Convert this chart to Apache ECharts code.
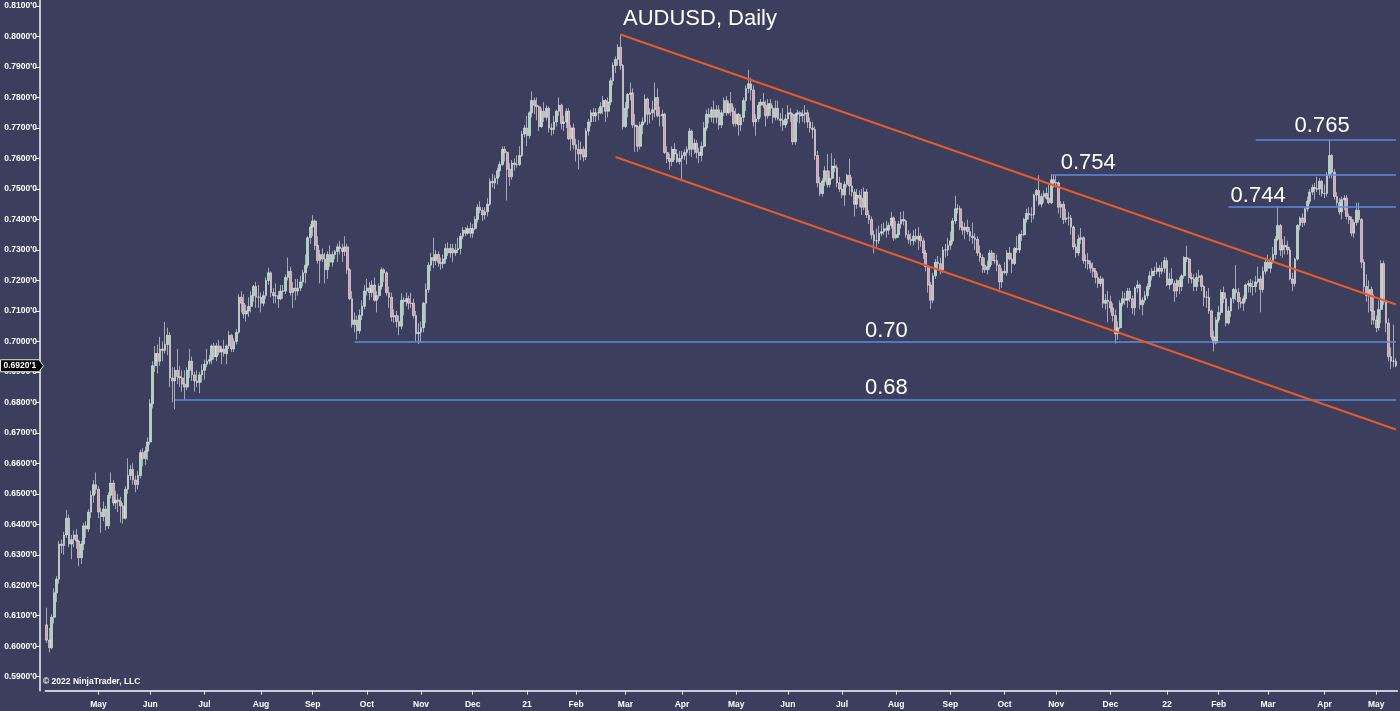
<!DOCTYPE html>
<html>
<head>
<meta charset="utf-8">
<title>AUDUSD, Daily</title>
<script src="https://cdn.jsdelivr.net/npm/echarts@6/dist/echarts.min.js"></script>
<style>
  html, body { margin: 0; padding: 0; background: #3b3e5c; }
  #chart { width: 1400px; height: 711px; }
</style>
</head>
<body>
<div id="chart"></div>
<script>
// ---- Session calendar (weekday sessions, market holidays skipped) ----
const firstSession = '2020-04-02';
const lastSession = '2022-05-12';
const closedSessions = ['2020-12-25', '2021-01-01'];

// ---- Daily candles, prices in pips (x 0.0001): [open, high, low, close] ----
const candles = [
  // 2020-04
  [6070,6126,6010,6020],[6020,6060,5980,5995],[5995,6105,5990,6095],[6095,6190,6075,6175],[6175,6230,6145,6220],
  [6220,6345,6205,6335],[6335,6350,6305,6330],[6330,6375,6300,6365],[6365,6447,6355,6420],[6420,6432,6325,6335],
  [6335,6365,6285,6350],[6350,6380,6325,6365],[6365,6385,6320,6345],[6345,6350,6262,6290],[6290,6345,6270,6335],
  [6335,6405,6315,6395],[6395,6410,6355,6385],[6385,6450,6375,6440],[6440,6510,6420,6495],[6495,6545,6470,6530],
  [6530,6570,6500,6515],
  // 2020-05
  [6515,6525,6420,6440],[6440,6455,6372,6425],[6425,6475,6410,6450],[6450,6460,6380,6395],[6395,6505,6385,6495],
  [6495,6570,6485,6535],[6535,6545,6460,6470],[6470,6510,6450,6480],[6480,6500,6440,6475],[6475,6490,6405,6460],
  [6460,6470,6402,6420],[6420,6525,6415,6515],[6515,6616,6500,6560],[6560,6595,6545,6580],[6580,6600,6530,6545],
  [6545,6560,6505,6530],[6530,6575,6515,6560],[6560,6645,6550,6635],[6635,6650,6590,6615],[6615,6655,6595,6640],
  [6640,6685,6610,6670],
  // 2020-06
  [6670,6810,6660,6795],[6795,6935,6780,6920],[6920,6985,6900,6960],[6960,6990,6895,6935],[6935,7015,6920,6975],
  [6975,7000,6935,6970],[6970,7064,6960,6990],[6990,7045,6955,7020],[7020,7030,6850,6880],[6880,6915,6800,6870],
  [6870,6915,6777,6905],[6905,6975,6860,6885],[6885,6920,6850,6880],[6880,6905,6835,6860],[6860,6905,6808,6850],
  [6850,6915,6840,6905],[6905,6975,6880,6935],[6935,6950,6870,6890],[6890,6900,6835,6870],[6870,6905,6850,6865],
  [6865,6900,6830,6890],[6890,6925,6865,6905],
  // 2020-07
  [6905,6940,6875,6925],[6925,6975,6915,6935],[6935,6955,6925,6940],[6940,6990,6925,6985],[6985,6995,6940,6950],
  [6950,6995,6935,6985],[6985,7005,6955,6965],[6965,6985,6925,6975],[6975,7005,6950,6960],[6960,6990,6925,6985],
  [6985,7035,6975,7020],[7020,7025,6965,6975],[6975,7010,6965,7000],[7000,7040,6990,7030],[7030,7155,7025,7145],
  [7145,7165,7095,7125],[7125,7155,7075,7090],[7090,7120,7065,7100],[7100,7145,7080,7115],[7115,7165,7095,7150],
  [7150,7185,7130,7180],[7180,7195,7110,7145],[7145,7185,7110,7145],
  // 2020-08
  [7145,7160,7095,7125],[7125,7165,7115,7150],[7150,7210,7140,7200],[7200,7242,7185,7225],[7225,7230,7145,7160],
  [7160,7175,7125,7150],[7150,7190,7125,7150],[7150,7165,7110,7140],[7140,7185,7135,7165],[7165,7185,7140,7165],
  [7165,7220,7155,7210],[7210,7275,7200,7230],[7230,7245,7150,7160],[7160,7195,7110,7175],[7175,7205,7135,7165],
  [7165,7205,7150,7175],[7175,7215,7165,7195],[7195,7235,7180,7225],[7225,7285,7190,7250],[7250,7345,7240,7340],
  [7340,7385,7320,7375],
  // 2020-09
  [7375,7414,7345,7395],[7395,7400,7300,7315],[7315,7345,7255,7265],[7265,7300,7190,7285],[7285,7305,7260,7270],
  [7270,7290,7190,7235],[7235,7295,7205,7285],[7285,7315,7245,7260],[7260,7295,7245,7285],[7285,7300,7270,7295],
  [7295,7320,7260,7310],[7310,7330,7285,7305],[7305,7320,7260,7295],[7295,7345,7280,7310],[7310,7320,7220,7235],
  [7235,7240,7135,7140],[7140,7165,7045,7055],[7055,7095,7030,7070],[7070,7085,7006,7035],[7035,7105,7025,7085],
  [7085,7135,7070,7115],[7115,7185,7105,7165],
  // 2020-10
  [7165,7205,7150,7175],[7175,7195,7135,7160],[7160,7200,7145,7185],[7185,7210,7130,7135],[7135,7165,7095,7150],
  [7150,7190,7140,7180],[7180,7243,7170,7235],[7235,7240,7195,7225],[7225,7230,7150,7160],[7160,7180,7110,7145],
  [7145,7160,7065,7080],[7080,7105,7060,7085],[7085,7100,7045,7065],[7065,7085,7020,7050],[7050,7158,7040,7135],
  [7135,7145,7085,7130],[7130,7160,7115,7140],[7140,7150,7105,7125],[7125,7160,7110,7125],[7125,7140,7075,7085],
  [7085,7100,7000,7025],[7025,7060,6991,7030],
  // 2020-11
  [7030,7065,6995,7045],[7045,7130,7030,7125],[7125,7190,7060,7170],[7170,7260,7160,7250],[7250,7290,7230,7275],
  [7275,7340,7240,7265],[7265,7300,7250,7285],[7285,7295,7245,7260],[7260,7275,7235,7255],[7255,7285,7240,7270],
  [7270,7320,7255,7305],[7305,7325,7280,7290],[7290,7320,7275,7305],[7305,7320,7260,7290],[7290,7320,7280,7300],
  [7300,7340,7290,7305],[7305,7355,7285,7345],[7345,7375,7335,7365],[7365,7375,7345,7355],[7355,7380,7350,7370],
  [7370,7390,7340,7355],
  // 2020-12
  [7355,7385,7340,7370],[7370,7410,7365,7400],[7400,7450,7390,7440],[7440,7460,7420,7430],[7430,7440,7395,7415],
  [7415,7440,7400,7425],[7425,7470,7410,7450],[7450,7535,7445,7525],[7525,7550,7505,7520],[7520,7545,7500,7535],
  [7535,7570,7515,7560],[7560,7590,7540,7580],[7580,7640,7575,7630],[7630,7640,7590,7620],[7620,7625,7462,7565],
  [7565,7585,7510,7540],[7540,7595,7530,7585],[7585,7600,7560,7580],[7580,7610,7570,7580],[7580,7640,7575,7610],
  [7610,7690,7605,7680],[7680,7710,7670,7700],
  // 2021-01
  [7700,7740,7640,7675],[7675,7755,7665,7750],[7750,7820,7735,7790],[7790,7800,7745,7775],[7775,7800,7725,7770],
  [7770,7775,7690,7705],[7705,7765,7700,7755],[7755,7785,7720,7735],[7735,7775,7725,7765],[7765,7770,7685,7700],
  [7700,7715,7675,7695],[7695,7740,7680,7720],[7720,7760,7705,7755],[7755,7800,7740,7775],[7775,7780,7695,7715],
  [7715,7740,7690,7720],[7720,7765,7700,7755],[7755,7765,7660,7665],[7665,7710,7625,7700],[7700,7715,7630,7645],
  // 2021-02
  [7645,7665,7590,7630],[7630,7660,7564,7615],[7615,7655,7595,7630],[7630,7640,7590,7605],[7605,7700,7595,7690],
  [7690,7730,7675,7720],[7720,7760,7705,7750],[7750,7765,7720,7740],[7740,7765,7720,7750],[7750,7765,7725,7750],
  [7750,7785,7745,7770],[7770,7805,7745,7790],[7790,7795,7720,7755],[7755,7800,7735,7785],[7785,7865,7775,7855],
  [7855,7915,7840,7905],[7905,7935,7880,7925],[7925,7975,7905,7965],[7965,8007,7890,7905],[7905,7910,7695,7705],
  // 2021-03
  [7705,7785,7700,7765],[7765,7815,7735,7810],[7810,7849,7790,7815],[7815,7830,7700,7710],[7710,7745,7622,7705],
  [7705,7710,7622,7640],[7640,7720,7630,7710],[7710,7735,7680,7720],[7720,7810,7715,7795],[7795,7800,7710,7745],
  [7745,7765,7715,7750],[7750,7790,7725,7760],[7760,7849,7735,7800],[7800,7830,7735,7740],[7740,7770,7705,7740],
  [7740,7760,7705,7745],[7745,7750,7615,7620],[7620,7640,7585,7600],[7600,7615,7563,7590],[7590,7640,7575,7630],
  [7630,7650,7595,7615],[7615,7630,7585,7590],[7590,7625,7580,7600],
  // 2021-04
  [7600,7625,7531,7610],[7610,7630,7595,7620],[7620,7640,7580,7630],[7630,7700,7610,7690],[7690,7695,7605,7630],
  [7630,7665,7615,7650],[7650,7660,7600,7620],[7620,7635,7585,7610],[7610,7655,7590,7640],[7640,7720,7635,7700],
  [7700,7760,7690,7745],[7745,7765,7715,7735],[7735,7770,7720,7760],[7760,7790,7715,7735],[7735,7775,7715,7760],
  [7760,7775,7695,7710],[7710,7760,7700,7750],[7750,7800,7740,7790],[7790,7805,7740,7750],[7750,7790,7745,7780],
  [7780,7818,7740,7755],[7755,7770,7705,7715],
  // 2021-05
  [7715,7765,7705,7745],[7745,7750,7675,7710],[7710,7745,7690,7735],[7735,7800,7720,7790],[7790,7840,7755,7830],
  [7830,7891,7815,7845],[7845,7865,7790,7825],[7825,7840,7705,7720],[7720,7745,7675,7730],[7730,7785,7720,7775],
  [7775,7795,7735,7785],[7785,7815,7765,7775],[7775,7790,7705,7740],[7740,7795,7730,7780],[7780,7795,7740,7765],
  [7765,7775,7715,7735],[7735,7790,7725,7765],[7765,7790,7725,7730],[7730,7750,7705,7725],[7725,7765,7690,7710],
  [7710,7745,7700,7730],
  // 2021-06
  [7730,7775,7715,7750],[7750,7765,7720,7745],[7745,7750,7645,7655],[7655,7750,7645,7745],[7745,7760,7720,7750],
  [7750,7755,7715,7740],[7740,7760,7720,7745],[7745,7775,7715,7750],[7750,7760,7700,7720],[7720,7735,7685,7700],
  [7700,7720,7665,7695],[7695,7705,7595,7610],[7610,7625,7505,7520],[7520,7540,7477,7485],[7485,7535,7475,7525],
  [7525,7575,7510,7560],[7560,7615,7505,7515],[7515,7560,7505,7535],[7535,7617,7530,7575],[7575,7600,7555,7570],
  [7570,7580,7505,7520],[7520,7540,7490,7500],
  // 2021-07
  [7500,7520,7470,7480],[7480,7525,7445,7515],[7515,7550,7505,7545],[7545,7599,7480,7510],[7510,7540,7475,7490],
  [7490,7500,7410,7450],[7450,7500,7435,7480],[7480,7495,7440,7470],[7470,7500,7415,7440],[7440,7505,7430,7490],
  [7490,7500,7405,7415],[7415,7430,7385,7400],[7400,7410,7335,7350],[7350,7365,7289,7330],[7330,7370,7310,7330],
  [7330,7380,7320,7355],[7355,7385,7345,7360],[7360,7390,7350,7370],[7370,7395,7340,7365],[7365,7390,7350,7380],
  [7380,7425,7370,7405],[7405,7410,7330,7340],
  // 2021-08
  [7340,7395,7335,7350],[7350,7395,7340,7385],[7385,7425,7370,7400],[7400,7427,7380,7395],[7395,7400,7340,7350],
  [7350,7365,7320,7335],[7335,7355,7315,7330],[7330,7365,7315,7345],[7345,7370,7325,7335],[7335,7375,7300,7345],
  [7345,7355,7310,7330],[7330,7340,7270,7290],[7290,7300,7230,7245],[7245,7250,7160,7185],[7185,7195,7106,7135],
  [7135,7225,7125,7215],[7215,7270,7205,7260],[7260,7280,7235,7255],[7255,7275,7220,7235],[7235,7310,7225,7300],
  [7300,7320,7275,7300],[7300,7340,7280,7315],
  // 2021-09
  [7315,7360,7300,7330],[7330,7405,7320,7395],[7395,7478,7385,7435],[7435,7450,7420,7435],[7435,7445,7365,7375],
  [7375,7395,7350,7365],[7365,7390,7335,7375],[7375,7400,7350,7360],[7360,7375,7330,7345],[7345,7390,7320,7340],
  [7340,7355,7300,7335],[7335,7345,7280,7290],[7290,7315,7260,7275],[7275,7285,7225,7250],[7250,7275,7225,7235],
  [7235,7265,7220,7245],[7245,7300,7235,7290],[7290,7300,7250,7265],[7265,7290,7255,7265],[7265,7285,7230,7250],
  [7250,7255,7170,7195],[7195,7240,7175,7230],
  // 2021-10
  [7230,7260,7220,7225],[7225,7300,7215,7290],[7290,7310,7265,7270],[7270,7290,7225,7255],[7255,7310,7250,7305],
  [7305,7345,7290,7300],[7300,7355,7290,7350],[7350,7365,7330,7350],[7350,7405,7345,7400],[7400,7435,7390,7420],
  [7420,7440,7400,7415],[7415,7440,7390,7415],[7415,7485,7400,7480],[7480,7500,7460,7495],[7495,7545,7445,7450],
  [7450,7485,7440,7475],[7475,7495,7455,7485],[7485,7505,7465,7470],[7470,7515,7450,7455],[7455,7549,7450,7530],
  [7530,7545,7505,7520],
  // 2021-11
  [7520,7545,7505,7520],[7520,7525,7420,7440],[7440,7460,7405,7450],[7450,7460,7385,7400],[7400,7435,7390,7405],
  [7405,7425,7380,7405],[7405,7415,7350,7375],[7375,7380,7300,7310],[7310,7320,7275,7290],[7290,7350,7280,7335],
  [7335,7372,7320,7340],[7340,7345,7255,7265],[7265,7285,7240,7265],[7265,7290,7235,7255],[7255,7265,7225,7240],
  [7240,7260,7210,7230],[7230,7240,7190,7210],[7210,7225,7175,7190],[7190,7215,7180,7205],[7205,7210,7110,7125],
  [7125,7155,7105,7135],[7135,7165,7063,7130],
  // 2021-12
  [7130,7150,7095,7110],[7110,7125,7065,7085],[7085,7105,6993,7025],[7025,7065,7005,7045],[7045,7135,7040,7125],
  [7125,7165,7115,7140],[7140,7160,7120,7135],[7135,7175,7110,7165],[7165,7175,7130,7140],[7140,7150,7090,7110],
  [7110,7180,7085,7175],[7175,7200,7160,7185],[7185,7190,7105,7120],[7120,7145,7085,7135],[7135,7165,7125,7150],
  [7150,7190,7140,7180],[7180,7230,7170,7215],[7215,7240,7200,7230],[7230,7245,7215,7230],[7230,7260,7220,7240],
  [7240,7250,7210,7230],[7230,7260,7220,7240],[7240,7277,7225,7265],
  // 2022-01
  [7265,7275,7180,7185],[7185,7225,7170,7205],[7205,7240,7185,7190],[7190,7200,7130,7165],[7165,7205,7145,7200],
  [7200,7210,7155,7180],[7180,7220,7165,7215],[7215,7280,7205,7275],[7275,7314,7260,7270],[7270,7275,7190,7210],
  [7210,7225,7190,7205],[7205,7220,7165,7180],[7180,7225,7165,7210],[7210,7235,7195,7215],[7215,7220,7165,7180],
  [7180,7185,7115,7145],[7145,7165,7110,7145],[7145,7175,7090,7100],[7100,7105,7005,7015],[7015,7035,6967,6995],
  [6995,7080,6990,7070],
  // 2022-02
  [7070,7115,7060,7095],[7095,7170,7085,7160],[7160,7180,7125,7140],[7140,7160,7050,7060],[7060,7115,7055,7100],
  [7100,7145,7080,7140],[7140,7175,7125,7170],[7170,7250,7135,7160],[7160,7175,7105,7130],[7130,7145,7110,7125],
  [7125,7150,7100,7140],[7140,7190,7130,7185],[7185,7200,7160,7190],[7190,7205,7160,7180],[7180,7200,7150,7180],
  [7180,7215,7160,7195],[7195,7245,7190,7205],[7205,7215,7095,7170],[7170,7245,7160,7230],[7230,7275,7220,7260],
  // 2022-03
  [7260,7285,7230,7240],[7240,7275,7225,7265],[7265,7310,7255,7285],[7285,7345,7270,7335],[7335,7441,7330,7380],
  [7380,7385,7280,7300],[7300,7335,7275,7315],[7315,7345,7285,7310],[7310,7330,7285,7300],[7300,7310,7200,7205],
  [7205,7225,7165,7190],[7190,7275,7180,7270],[7270,7385,7265,7380],[7380,7410,7365,7405],[7405,7420,7375,7390],
  [7390,7440,7380,7435],[7435,7475,7425,7460],[7460,7500,7450,7490],[7490,7515,7480,7505],[7505,7520,7465,7500],
  [7500,7540,7490,7500],[7500,7535,7480,7525],[7525,7530,7475,7485],
  // 2022-04
  [7485,7515,7470,7485],[7485,7555,7475,7545],[7545,7663,7535,7610],[7610,7615,7535,7555],[7555,7565,7465,7475],
  [7475,7490,7445,7455],[7455,7470,7415,7425],[7425,7475,7400,7465],[7465,7480,7430,7470],[7470,7480,7400,7410],
  [7410,7420,7385,7400],[7400,7410,7345,7355],[7355,7400,7340,7390],[7390,7455,7380,7430],[7430,7455,7390,7400],
  [7400,7405,7240,7260],[7260,7270,7160,7180],[7180,7220,7130,7150],[7150,7200,7095,7170],[7170,7180,7054,7100],
  [7100,7155,7055,7070],
  // 2022-05
  [7070,7085,7030,7045],[7045,7135,7035,7105],[7105,7266,7060,7255],[7255,7265,7120,7130],[7130,7135,7030,7060],
  [7060,7076,6935,6950],[6950,6980,6910,6935],[6935,7055,6915,6935],[6935,6945,6915,6920.1]
];

// ---- Price axis labels ----
const priceTicks = [0.59, 0.60, 0.61, 0.62, 0.63, 0.64, 0.65, 0.66, 0.67, 0.68, 0.69, 0.70,
                    0.71, 0.72, 0.73, 0.74, 0.75, 0.76, 0.77, 0.78, 0.79, 0.80, 0.81];
const monthNames = ['Jan','Feb','Mar','Apr','May','Jun','Jul','Aug','Sep','Oct','Nov','Dec'];

// ---- Drawn horizontal levels ----
const levelStart = ['2020-06-15', '2020-09-24', '2021-10-28', '2022-02-07', '2022-02-22'];
const levelPrice = [0.6807, 0.7000, 0.7548, 0.7443, 0.7663];
const levelText  = ['0.68', '0.70', '0.754', '0.744', '0.765'];
const levelTextAt = [['2021-07-27', 0.6847], ['2021-07-27', 0.7034], ['2021-11-18', 0.7585],
                     ['2022-02-23', 0.7477], ['2022-03-31', 0.7706]];

// ---- Descending channel ----
const channelUpper = [['2021-02-25', 0.8007], ['2022-05-12', 0.7121]];
const channelLower = [['2021-02-23', 0.7605], ['2022-05-12', 0.6711]];

const lastPrice = 0.69201;

// ---------------------------------------------------------------
function tradingDays(from, to, skip) {
  const out = [];
  const d = new Date(from + 'T00:00:00Z');
  const end = new Date(to + 'T00:00:00Z');
  while (d <= end) {
    const wd = d.getUTCDay();
    const s = d.toISOString().slice(0, 10);
    if (wd !== 0 && wd !== 6 && skip.indexOf(s) < 0) out.push(s);
    d.setUTCDate(d.getUTCDate() + 1);
  }
  return out;
}
const dates = tradingDays(firstSession, lastSession, closedSessions);
if (dates.length !== candles.length) console.warn('sessions', dates.length, 'candles', candles.length);

// first session of each month carries the axis label
const monthStart = dates.map((d, i) => i === 0 ? d.slice(8) === '01' : d.slice(5, 7) !== dates[i - 1].slice(5, 7));
const isMonthStart = (i) => monthStart[i];
function monthLabel(d) {
  const m = +d.slice(5, 7);
  return m === 1 ? d.slice(2, 4) : monthNames[m - 1];
}

const ohlcData = candles.map(c => [c[0] / 1e4, c[3] / 1e4, c[2] / 1e4, c[1] / 1e4]);

const BG = '#3b3e5c';
const TXT = '#ffffff';
const SANS = "'Liberation Sans', Arial, sans-serif";
const BLUE = '#5b8de4';
const ORANGE = '#e65a2c';

const levelLines = levelPrice.map((p, i) => [
  { coord: [levelStart[i], p], lineStyle: { color: BLUE, width: 1.6, type: 'solid' } },
  { coord: [dates[dates.length - 1], p] }
]);
const channelLines = [channelUpper, channelLower].map(seg => [
  { coord: seg[0], lineStyle: { color: ORANGE, width: 2, type: 'solid' } },
  { coord: seg[1] }
]);

const chart = echarts.init(document.getElementById('chart'), null, { renderer: 'canvas' });

chart.setOption({
  animation: false,
  backgroundColor: BG,
  title: {
    text: 'AUDUSD, Daily',
    left: 'center',
    top: 3,
    textStyle: { color: TXT, fontSize: 22, fontWeight: 'normal', fontFamily: SANS }
  },
  grid: { left: 45.6, right: 2.8, top: 0, bottom: 20.3, containLabel: false, outerBoundsMode: 'none' },
  xAxis: {
    type: 'category',
    data: dates,
    boundaryGap: true,
    axisLine: { show: true, lineStyle: { color: '#c9cbd6', width: 2 } },
    axisTick: { show: true, interval: isMonthStart, alignWithLabel: true, length: 4, lineStyle: { color: '#e8e8ee', width: 1 } },
    axisLabel: {
      interval: isMonthStart,
      formatter: monthLabel,
      color: TXT, fontSize: 8.5, fontWeight: 'bold', fontFamily: SANS, margin: 9
    },
    splitLine: { show: false }
  },
  yAxis: {
    type: 'value',
    min: 0.5854,
    max: 0.8120,
    offset: 5.6,
    axisLine: { show: true, lineStyle: { color: '#f2f2f6', width: 1.5 } },
    axisTick: { show: true, customValues: priceTicks, length: 4, lineStyle: { color: '#f2f2f6' } },
    axisLabel: {
      customValues: priceTicks,
      formatter: v => v.toFixed(4) + "'0",
      color: TXT, fontSize: 8.5, fontWeight: 'bold', fontFamily: SANS, margin: 3
    },
    splitLine: { show: false }
  },
  series: [{
    type: 'candlestick',
    data: ohlcData,
    barWidth: 2.2,
    itemStyle: {
      color: '#a3dab5',
      color0: '#dc9eab',
      borderColor: '#eceef3',
      borderColor0: '#eceef3',
      borderWidth: 0.6
    },
    markLine: {
      silent: true,
      symbol: ['none', 'none'],
      label: { show: false },
      data: levelLines.concat(channelLines)
    },
    markPoint: {
      silent: true,
      symbol: 'rect',
      symbolSize: 1,
      itemStyle: { color: 'rgba(0,0,0,0)' },
      label: { show: true, position: 'inside', color: TXT, fontSize: 22, fontFamily: SANS, formatter: p => p.name },
      data: levelText.map((t, i) => ({ name: t, coord: levelTextAt[i] }))
    }
  }]
});

// last-price tag on the price axis and the vendor notice
const yTag = chart.convertToPixel({ yAxisIndex: 0 }, lastPrice);
chart.setOption({
  graphic: [
    {
      type: 'polygon',
      shape: { points: [[0.5, yTag - 6], [39, yTag - 6], [43.5, yTag], [39, yTag + 6], [0.5, yTag + 6]] },
      style: { fill: '#050505', stroke: '#e6e6ea', lineWidth: 1 },
      z: 100
    },
    {
      type: 'text',
      x: 3.5, y: yTag,
      style: { text: lastPrice.toFixed(4) + "'" + '1', fill: TXT, fontSize: 8.5, fontWeight: 'bold', fontFamily: SANS, verticalAlign: 'middle' },
      z: 101
    },
    {
      type: 'text',
      left: 43, bottom: 25,
      style: { text: '\u00a9 2022 NinjaTrader, LLC', fill: TXT, fontSize: 8.5, fontWeight: 'bold', fontFamily: SANS },
      z: 101
    }
  ]
});
</script>
</body>
</html>
